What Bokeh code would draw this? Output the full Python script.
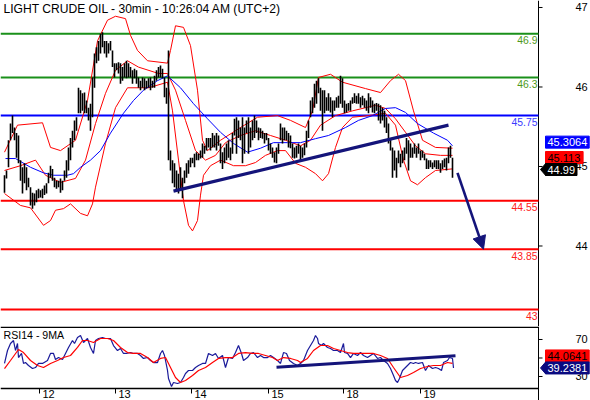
from bokeh.plotting import figure
from bokeh.models import Range1d, Arrow, NormalHead
from bokeh.core.properties import value
from bokeh.layouts import column
from bokeh.embed import file_html
from bokeh.resources import INLINE

FONT = "Liberation Sans"

# ---------------- data (bar index = 30-min bar sequence) ----------------
bar_high = [44.89, 44.95, 45.33, 45.54, 45.64, 45.49, 45.42, 45.39, 45.08, 44.99,
            45.04, 44.99, 44.86, 44.74, 44.67, 44.66, 44.70, 44.72, 44.70, 44.72,
            44.76, 44.79, 44.92, 45.01, 44.97, 44.86, 44.82, 44.82, 44.85, 44.82,
            44.95, 45.08, 45.24, 45.36, 45.45, 45.58, 45.62, 45.99, 45.96, 45.92,
            45.93, 45.83, 45.74, 45.79, 46.12, 46.42, 46.50, 46.58, 46.67, 46.69,
            46.58, 46.58, 46.55, 46.58, 46.46, 46.30, 46.30, 46.31, 46.30, 46.25,
            46.30, 46.33, 46.30, 46.25, 46.21, 46.23, 46.21, 46.12, 46.08, 46.12,
            46.11, 46.08, 46.11, 46.12, 46.08, 46.14, 46.21, 46.25, 46.27, 46.23,
            46.12, 45.99, 46.46, 45.20, 45.08, 45.04, 44.95, 44.91, 44.99, 44.86,
            44.95, 45.04, 45.08, 45.11, 45.11, 45.16, 45.18, 45.16, 45.20, 45.29,
            45.26, 45.36, 45.36, 45.36, 45.42, 45.39, 45.42, 45.39, 45.29, 45.18,
            45.24, 45.29, 45.33, 45.24, 45.42, 45.60, 45.62, 45.58, 45.49, 45.62,
            45.49, 45.58, 45.62, 45.49, 45.58, 45.64, 45.58, 45.49, 45.48, 45.45,
            45.42, 45.42, 45.36, 45.29, 45.24, 45.18, 45.24, 45.29, 45.54, 45.49,
            45.49, 45.45, 45.42, 45.39, 45.29, 45.24, 45.26, 45.29, 45.26, 45.24,
            45.29, 45.45, 45.58, 45.83, 45.87, 46.04, 46.08, 46.11, 45.99, 45.96,
            45.96, 45.87, 45.92, 45.87, 45.83, 45.83, 45.87, 45.89, 46.14, 46.11,
            45.83, 45.79, 45.80, 45.83, 45.87, 45.92, 45.89, 45.92, 45.87, 45.89,
            45.86, 45.83, 45.92, 45.87, 45.83, 45.79, 45.80, 45.79, 45.77, 45.74,
            45.70, 45.62, 45.54, 45.36, 45.24, 45.20, 45.11, 45.20, 45.16, 45.20,
            45.24, 45.36, 45.33, 45.29, 45.24, 45.29, 45.24, 45.29, 45.20, 45.20,
            45.16, 45.10, 45.08, 45.08, 45.05, 45.08, 45.08, 45.08, 45.04, 45.08,
            45.10, 45.11, 45.24, 45.26, 45.11]
bar_low = [44.67, 44.85, 44.99, 45.33, 45.42, 45.33, 45.11, 45.04, 44.82, 44.66,
           44.79, 44.70, 44.74, 44.51, 44.47, 44.51, 44.55, 44.60, 44.61, 44.60,
           44.64, 44.66, 44.79, 44.86, 44.82, 44.74, 44.72, 44.74, 44.67, 44.70,
           44.82, 44.86, 44.95, 45.08, 45.24, 45.33, 45.45, 45.67, 45.67, 45.70,
           45.67, 45.67, 45.58, 45.45, 45.62, 45.99, 46.30, 46.33, 46.42, 46.50,
           46.42, 46.37, 46.42, 46.46, 46.25, 46.12, 46.21, 46.17, 46.04, 46.08,
           46.12, 46.11, 46.12, 46.12, 46.04, 46.11, 46.04, 45.99, 45.96, 45.99,
           45.96, 45.98, 45.99, 45.96, 45.99, 45.99, 46.08, 46.12, 46.12, 46.11,
           45.87, 45.79, 45.08, 44.95, 44.79, 44.74, 44.70, 44.66, 44.70, 44.60,
           44.79, 44.86, 44.91, 44.99, 45.04, 44.99, 45.08, 45.08, 45.10, 45.11,
           45.16, 45.20, 45.24, 45.20, 45.24, 45.24, 45.20, 45.26, 45.04, 44.97,
           45.04, 45.08, 45.11, 45.08, 45.16, 45.39, 45.16, 45.36, 45.33, 45.04,
           45.16, 45.42, 45.16, 45.24, 45.33, 45.36, 45.42, 45.33, 45.36, 45.35,
           45.29, 45.33, 45.20, 45.16, 45.11, 45.05, 45.04, 45.16, 45.33, 45.29,
           45.33, 45.33, 45.24, 45.23, 45.11, 45.10, 45.11, 45.16, 45.08, 45.11,
           45.14, 45.24, 45.36, 45.62, 45.67, 45.74, 45.79, 45.92, 45.70, 45.45,
           45.67, 45.70, 45.70, 45.68, 45.62, 45.70, 45.74, 45.74, 45.79, 45.74,
           45.67, 45.68, 45.70, 45.70, 45.79, 45.80, 45.79, 45.79, 45.74, 45.77,
           45.74, 45.70, 45.67, 45.74, 45.68, 45.67, 45.70, 45.58, 45.54, 45.58,
           45.49, 45.42, 45.29, 45.20, 44.86, 44.95, 44.86, 45.04, 44.99, 45.04,
           45.08, 45.16, 44.95, 45.11, 45.11, 45.16, 45.11, 45.16, 45.08, 45.11,
           45.08, 44.97, 44.97, 44.99, 44.97, 44.99, 44.97, 44.97, 44.92, 44.97,
           44.99, 44.95, 45.04, 45.11, 44.86]
bar_x = list(range(len(bar_high)))

# blue moving average
ma_x = [0.5, 5.5, 13, 19.5, 24.5, 31.5, 34.5, 38, 43, 48, 53, 59.5, 64.5, 69.5, 76.5,
        81.5, 88, 94.5, 101.5, 108, 114.5, 121.5, 128, 134.5, 141.5, 148, 155.5, 162,
        170.5, 177, 184, 190.5, 195.5, 200.5, 206.5, 214.5, 221.5, 224]
ma_y = [45.10, 45.10, 44.99, 44.92, 44.89, 44.89, 44.91, 44.99, 45.08, 45.20, 45.42,
        45.67, 45.83, 45.96, 46.08, 46.14, 45.99, 45.79, 45.60, 45.43, 45.29, 45.18,
        45.23, 45.30, 45.30, 45.30, 45.35, 45.39, 45.49, 45.58, 45.64, 45.73, 45.74,
        45.68, 45.54, 45.42, 45.33, 45.26]

# Bollinger bands (red)
bbu_x = [0, 6.5, 19, 23, 28, 35.5, 41.5, 46.5, 51.5, 55.5, 60.5, 63, 66.5, 71.5, 81.5,
         83, 85.5, 89.5, 93, 96.5, 99, 101.5, 108, 118, 126.5, 136.5, 143, 150.5, 154,
         157, 163, 169, 180.5, 188, 193, 197, 200.5, 204.5, 209, 215.5, 224]
bbu_y = [45.18, 45.52, 45.55, 45.24, 45.20, 45.33, 45.83, 46.58, 46.84, 46.89, 46.86,
         46.65, 46.46, 46.33, 46.30, 46.46, 46.77, 46.75, 46.52, 45.96, 45.33, 45.20,
         45.33, 45.49, 45.62, 45.64, 45.58, 45.49, 45.70, 46.12, 46.16, 46.06, 45.98,
         45.93, 46.08, 46.16, 46.08, 45.70, 45.33, 45.24, 45.23]
bbm_x = [0, 8, 15.5, 20.5, 28, 35.5, 40.5, 45.5, 50.5, 55.5, 61.5, 67, 77, 81.5, 85.5,
         90.5, 95.5, 100.5, 105.5, 110.5, 118, 125.5, 133, 140.5, 148, 153, 158, 165.5,
         174, 185.5, 190.5, 195.5, 200.5, 205.5, 210.5, 218, 224]
bbm_y = [44.95, 45.01, 45.08, 44.89, 44.80, 44.85, 45.08, 45.54, 45.92, 46.21, 46.33,
         46.25, 46.17, 46.17, 45.96, 45.58, 45.20, 45.08, 45.14, 45.30, 45.39, 45.45,
         45.39, 45.33, 45.26, 45.33, 45.52, 45.64, 45.70, 45.77, 45.73, 45.60, 45.43,
         45.26, 45.16, 45.14, 45.14]
bbl_x = [0, 8, 13, 19.5, 23, 25.5, 29.5, 33, 38, 41.5, 44, 45.5, 50.5, 55.5, 61.5, 72,
         81.5, 84, 87, 89.5, 92, 94, 96.5, 98, 99.5, 103, 108, 114.5, 120.5, 125.5,
         130.5, 136.5, 140.5, 145.5, 150.5, 155.5, 159, 162, 165.5, 169, 174, 182,
         190.5, 195.5, 199.5, 203, 206.5, 210.5, 215.5, 224]
bbl_y = [44.66, 44.51, 44.48, 44.26, 44.32, 44.45, 44.47, 44.53, 44.41, 44.38, 44.53,
         44.74, 45.29, 45.74, 45.99, 45.99, 46.06, 45.70, 45.08, 44.57, 44.26, 44.19,
         44.32, 44.64, 44.89, 45.01, 45.08, 45.01, 45.01, 45.05, 45.14, 45.20, 45.20,
         45.04, 44.99, 44.91, 44.82, 44.91, 45.24, 45.49, 45.62, 45.64, 45.67, 45.52,
         45.08, 44.82, 44.77, 44.86, 44.95, 44.97]

# trend line and projected move
trend_x = [84.5, 222]
trend_y = [44.69, 45.52]
arrow_x = [226.5, 239.5]
arrow_y = [44.92, 43.96]

# horizontal levels (position on the price scale) and their captions
level_y = [46.67, 46.12, 45.64, 44.57, 43.96, 43.20]
level_text = ["46.9", "46.3", "45.75", "44.55", "43.85", "43"]
level_color = ["#1a901a", "#1a901a", "#0000ff", "#ff0000", "#ff0000", "#ff0000"]
level_text_color = ["#4f9a1a", "#4f9a1a", "#3a3aff", "#ff2020", "#ff2020", "#ff2020"]

price_ticks = [44, 45, 46, 47]
price_tick_labels = ["44", "45", "46", "47"]
day_ticks = [17.5, 55.5, 93.5, 132, 169.5, 208]
day_labels = ["12", "13", "14", "15", "18", "19"]

# price markers on the scale
mark_val = [45.3064, 45.113, 44.99]
mark_text = ["45.3064", "45.113", "44.99"]
mark_bg = ["#0000ff", "#ff0000", "#000000"]
mark_fg = ["#ffffff", "#000000", "#ffffff"]

# RSI panel
rsi_x = [0, 1.5, 3, 4.5, 5.5, 6.5, 7, 8.5, 9.5, 10.5, 12, 14, 15.5, 17, 19, 21.5, 23,
         24.5, 25.5, 27, 29, 30.5, 32, 34, 35, 36.5, 38, 39.5, 40.5, 41.5, 43, 44.5,
         45.5, 47, 49, 50.5, 53, 54.5, 56.5, 58, 59.5, 61, 63, 64.5, 66.5, 68, 69.5,
         71.5, 73, 74.5, 76.5, 78, 79, 80, 81.5, 82, 83.5, 84.5, 86.5, 88, 89.5, 90.5,
         92, 94, 95.5, 97, 99, 100.5, 102, 104, 105.5, 107, 109, 110.5, 112, 114,
         115.5, 117, 118.5, 119.5, 121.5, 123, 124.5, 126.5, 128, 129.5, 131.5, 133,
         134.5, 136.5, 138, 139.5, 141, 142.5, 144.5, 146.5, 148, 149.5, 151.5, 153,
         154.5, 155.5, 156.5, 157, 158.5, 159.5, 161.5, 163, 164.5, 166.5, 168, 169.5,
         170, 171.5, 173, 174.5, 176.5, 178, 179.5, 181.5, 183, 184.5, 186.5, 188,
         189.5, 191.5, 193, 194.5, 195.5, 196.5, 197.5, 199, 200, 201.5, 203, 204.5,
         205.5, 207, 209, 210.5, 212, 214, 215.5, 217, 218.5, 219.5, 221.5, 222.5,
         224, 224.5]
rsi_y = [44.1, 58.1, 65.7, 68.9, 58.1, 65.7, 50.5, 54.9, 44.1, 45.1, 41.9, 38.6, 39.7,
         44.1, 44.1, 47.3, 54.9, 54.9, 48.4, 50.5, 48.4, 54.9, 61.4, 68.9, 65.7, 72.2,
         74.3, 66.8, 68.9, 71.1, 61.4, 54.9, 68.9, 71.1, 72.2, 71.1, 71.1, 63.5, 58.1,
         60.3, 54.9, 54.9, 55.9, 54.9, 54.9, 52.7, 49.5, 50.5, 47.3, 45.1, 45.1, 54.9,
         58.1, 52.7, 36.5, 27.8, 19.2, 23.5, 22.4, 23.5, 28.9, 33.2, 36.5, 36.5, 39.7,
         41.9, 44.1, 44.1, 54.9, 52.7, 54.9, 49.5, 52.7, 39.7, 50.5, 49.5, 55.9, 63.5,
         54.9, 47.3, 50.5, 54.9, 55.9, 50.5, 52.7, 50.5, 50.5, 52.7, 50.5, 47.3, 44.1,
         55.9, 54.9, 47.3, 44.1, 41.9, 44.1, 47.3, 58.1, 63.5, 68.9, 74.3, 71.1, 65.7,
         63.5, 65.7, 61.4, 60.3, 58.1, 58.1, 55.9, 65.7, 55.9, 54.9, 50.5, 54.9, 52.7,
         55.9, 52.7, 50.5, 52.7, 54.9, 49.5, 50.5, 47.3, 44.1, 38.6, 31.1, 25.7, 23.5,
         27.8, 36.5, 38.6, 41.9, 45.1, 44.1, 45.1, 44.1, 45.1, 36.5, 41.9, 38.6, 39.7,
         38.6, 36.5, 45.1, 47.3, 50.5, 49.5, 39.2]
rsi_ma_x = [0, 3, 7, 9.5, 13, 16.5, 19.5, 23, 26.5, 29.5, 33, 36.5, 39, 41.5, 44.5, 48,
            51.5, 54.5, 58, 61.5, 64.5, 68, 71.5, 74.5, 78, 80.5, 83, 85.5, 88, 90.5, 94,
            97, 100.5, 104, 107, 110.5, 114, 117, 120.5, 124, 127, 130.5, 134, 136.5,
            139.5, 143, 146.5, 148, 151.5, 154.5, 158, 161.5, 164.5, 168, 171.5, 174.5,
            178, 181.5, 184.5, 188, 191.5, 194.5, 198, 201.5, 204.5, 208, 211.5, 214.5,
            218, 221.5, 224]
rsi_ma_y = [38.6, 47.3, 59.2, 55.9, 47.3, 41.9, 39.7, 44.1, 47.3, 50.5, 52.7, 61.4, 68.9,
            68.9, 66.8, 71.1, 71.1, 68.9, 61.4, 55.9, 54.9, 54.9, 50.5, 45.1, 49.5, 50.5,
            39.7, 28.9, 23.5, 25.7, 31.1, 36.5, 39.7, 45.1, 49.5, 50.5, 50.5, 54.9, 55.9,
            54.9, 54.9, 52.7, 50.5, 47.3, 50.5, 49.5, 47.3, 45.1, 49.5, 58.1, 63.5, 63.5,
            60.3, 58.1, 55.9, 54.9, 54.9, 54.9, 54.9, 52.7, 49.5, 39.7, 28.9, 31.1, 34.3,
            38.6, 40.8, 41.9, 41.9, 45.1, 44.1]
rsi_trend_x = [136, 225.5]
rsi_trend_y = [40.0, 52.4]
rsi_ticks = [30, 50, 70]
rsi_tick_labels = ["30", "50", "70"]
rsi_mark_val = [44.0641, 39.2381]
rsi_mark_text = ["44.0641", "39.2381"]
rsi_mark_bg = ["#ff0000", "#0a0a80"]
rsi_mark_fg = ["#000000", "#ffffff"]

# ---------------- layout / style ----------------
W = 590
H_MAIN = 326
H_RSI = 74
PX = 2.0                         # pixels per bar
X0 = -2.0
X1 = X0 + W / PX
AXIS_X = 267.0                   # bar position of the price scale line
P1 = 47.088                      # price range of the main panel
P0 = P1 - H_MAIN / 79.5
R1 = 84.05                       # RSI figure range, RSI panel bottom
R0 = R1 - H_RSI / 0.925
RB = R1 - 62 / 0.925
PPU = H_MAIN / (P1 - P0)         # pixels per price unit
RPU = H_RSI / (R1 - R0)          # pixels per RSI unit
NAVY = "#14147a"
FS = "11px"


def px_x(n):
    return n / PX


def make_fig(h, y0, y1):
    f = figure(width=W, height=h, x_range=Range1d(X0, X1), y_range=Range1d(y0, y1),
               output_backend="svg", toolbar_location=None, x_axis_location=None,
               y_axis_location=None, min_border=0)
    f.outline_line_color = None
    f.grid.visible = False
    f.background_fill_color = "white"
    f.border_fill_color = "white"
    return f


def txt(f, xs, ys, texts, color, align="left", baseline="middle", size=FS):
    f.text(x=xs, y=ys, text=texts, text_color=color, text_align=align,
           text_baseline=baseline, text_font=value(FONT), text_font_size=value(size))


def scale_axis(f, ticks, labels, ya, yb):
    f.segment(x0=[AXIS_X], y0=[ya], x1=[AXIS_X], y1=[yb], line_color="black",
              line_width=1)
    f.segment(x0=[AXIS_X] * len(ticks), y0=ticks, x1=[AXIS_X + px_x(4)] * len(ticks),
              y1=ticks, line_color="black", line_width=1)
    txt(f, [AXIS_X + px_x(37)] * len(ticks), ticks, labels, "#000000")


def markers(f, ys, texts, bgs, fgs, unit, pointer_idx):
    h = 12 / unit
    for i, (y, t, bg, fg) in enumerate(zip(ys, texts, bgs, fgs)):
        left = AXIS_X + px_x(7)
        w = px_x(len(t.replace(".", "")) * 6.1 + 3.1 + 4)
        f.quad(left=[left], right=[left + w], bottom=[y - h / 2], top=[y + h / 2],
               fill_color=bg, line_color=bg)
        if i == pointer_idx:
            f.patch([AXIS_X + px_x(2), left + 0.1, left + 0.1],
                    [y, y + h / 2, y - h / 2], fill_color=bg, line_color=bg)
        txt(f, [left + px_x(2)], [y], [t], fg)


# ---------------- main panel ----------------
p = make_fig(H_MAIN, P0, P1)
scale_axis(p, price_ticks, price_tick_labels, P0, P1)

for v, c in zip(level_y, level_color):
    p.segment(x0=[X0], y0=[v], x1=[AXIS_X], y1=[v], line_color=c, line_width=2)
for v, t, tc in zip(level_y, level_text, level_text_color):
    txt(p, [AXIS_X - px_x(1)], [v - 2.5 / PPU], [t], tc, align="right",
        baseline="top", size="10.4px")

p.line(bbu_x, bbu_y, color="#ff0000", line_width=1)
p.line(bbm_x, bbm_y, color="#ff0000", line_width=1)
p.line(bbl_x, bbl_y, color="#ff0000", line_width=1)
p.line(ma_x, ma_y, color="#0000ff", line_width=1)
p.segment(x0=bar_x, y0=bar_low, x1=bar_x, y1=bar_high, line_color="black",
          line_width=1.6)
p.line(trend_x, trend_y, color=NAVY, line_width=3.2)
p.add_layout(Arrow(end=NormalHead(size=13, fill_color=NAVY, line_color=NAVY),
                   x_start=arrow_x[0], y_start=arrow_y[0], x_end=arrow_x[1],
                   y_end=arrow_y[1], line_color=NAVY, line_width=2.6))

txt(p, [X0 + px_x(3)], [P1 - 1 / PPU],
    ["LIGHT CRUDE OIL - 30min - 10:26:04 AM (UTC+2)"], "#000000", baseline="top",
    size="12.1px")

# stack the value boxes so that they do not overlap
mh = 12 / PPU
mark_y = [mark_val[0]]
for v in mark_val[1:]:
    mark_y.append(min(v, mark_y[-1] - mh))
markers(p, mark_y, mark_text, mark_bg, mark_fg, PPU, 2)

# ---------------- RSI panel ----------------
r = make_fig(H_RSI, R0, R1)
r.segment(x0=[X0], y0=[R1 - 0.7 / RPU], x1=[AXIS_X], y1=[R1 - 0.7 / RPU],
          line_color="black", line_width=1.5)
r.segment(x0=[X0], y0=[RB], x1=[AXIS_X], y1=[RB], line_color="black", line_width=1.5)
scale_axis(r, rsi_ticks, rsi_tick_labels, R0, R1)
r.segment(x0=day_ticks, y0=[RB] * len(day_ticks), x1=day_ticks,
          y1=[RB - 5 / RPU] * len(day_ticks), line_color="black", line_width=1)
txt(r, [t + px_x(3) for t in day_ticks], [RB - 1 / RPU] * len(day_ticks), day_labels,
    "#000000", baseline="top")

r.line(rsi_x, rsi_y, color="#1a1a9a", line_width=1.2)
r.line(rsi_ma_x, rsi_ma_y, color="#ff0000", line_width=1.2)
r.line(rsi_trend_x, rsi_trend_y, color=NAVY, line_width=3)
txt(r, [X0 + px_x(3)], [R1 - 2 / RPU], ["RSI14 - 9MA"], "#000000", baseline="top",
    size="10.6px")

rh = 12 / RPU
rsi_mark_y = [max(rsi_mark_val[0], rsi_mark_val[1] + rh), rsi_mark_val[1]]
markers(r, rsi_mark_y, rsi_mark_text, rsi_mark_bg, rsi_mark_fg, RPU, 1)

layout = column(p, r, spacing=0)
open("out.html", "w").write(file_html(layout, INLINE))
